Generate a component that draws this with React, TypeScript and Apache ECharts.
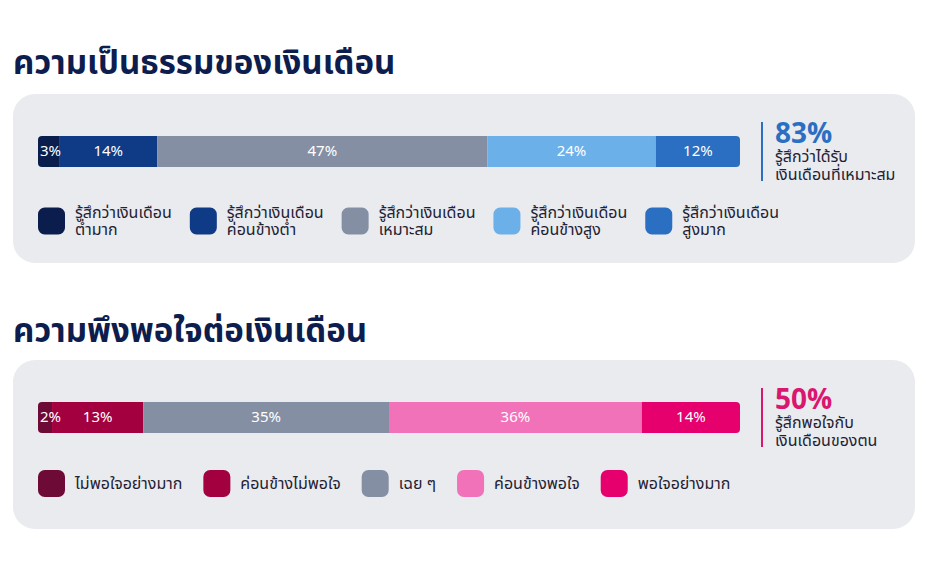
import React, { useEffect, useRef } from "react";
import * as echarts from "echarts";

const fairnessNames = [
  "รู้สึกว่าเงินเดือน\nต่ำมาก",
  "รู้สึกว่าเงินเดือน\nค่อนข้างต่ำ",
  "รู้สึกว่าเงินเดือน\nเหมาะสม",
  "รู้สึกว่าเงินเดือน\nค่อนข้างสูง",
  "รู้สึกว่าเงินเดือน\nสูงมาก",
];
const fairnessValues = [3, 14, 47, 24, 12];
const fairnessColors = ["#0b1d4d", "#0f3a86", "#858fa3", "#6cb0ea", "#2b6fc2"];

const satisfactionNames = [
  "ไม่พอใจอย่างมาก",
  "ค่อนข้างไม่พอใจ",
  "เฉย ๆ",
  "ค่อนข้างพอใจ",
  "พอใจอย่างมาก",
];
const satisfactionValues = [2, 13, 35, 36, 14];
const satisfactionColors = ["#6e0a36", "#a3003f", "#858fa3", "#f272b9", "#e5006e"];

const titles = ["ความเป็นธรรมของเงินเดือน", "ความพึงพอใจต่อเงินเดือน"];
const summaryValues = ["83%", "50%"];
const summaryTexts = ["รู้สึกว่าได้รับ\nเงินเดือนที่เหมาะสม", "รู้สึกพอใจกับ\nเงินเดือนของตน"];
const summaryColors = ["#2b6fc2", "#d9176f"];

const FONT = '"Noto Sans Thai", "Noto Sans", Lato, sans-serif';

function makeSeries(names: string[], values: number[], colors: string[], idx: number) {
  return names.map((n, i) => ({
    type: "bar",
    name: n,
    stack: "s" + idx,
    xAxisIndex: idx,
    yAxisIndex: idx,
    barWidth: 31,
    data: [values[i]],
    itemStyle: {
      color: colors[i],
      borderRadius: i === 0 ? [4, 0, 0, 4] : i === names.length - 1 ? [0, 4, 4, 0] : 0,
    },
    label: {
      show: true,
      position: i === 0 ? "insideLeft" : "inside",
      distance: 2,
      formatter: "{c}%",
      color: "#ffffff",
      fontSize: 15,
      fontFamily: FONT,
    },
  }));
}

export default function App() {
  const ref = useRef<HTMLDivElement>(null);
  useEffect(() => {
    const chart = echarts.init(ref.current!, null, { renderer: "svg" });
    const panelTops = [94, 360];
    const barTops = [136, 402];
    const graphic: any[] = [];
    panelTops.forEach((t, i) => {
      graphic.push({
        type: "rect",
        z: -10,
        shape: { x: 13, y: t, width: 902, height: 169, r: 22 },
        style: { fill: "#e9ebef" },
        silent: true,
      });
      graphic.push({
        type: "line",
        z: 10,
        shape: { x1: 762, y1: barTops[i] - 14, x2: 762, y2: barTops[i] + 45 },
        style: { stroke: summaryColors[i], lineWidth: 2 },
      });
      graphic.push({
        type: "text",
        z: 10,
        x: 775,
        y: barTops[i] - 2,
        style: {
          text: summaryValues[i],
          fill: summaryColors[i],
          font: `bold 28px ${FONT}`,
          lineHeight: 26,
          textVerticalAlign: "middle",
        },
      });
      graphic.push({
        type: "text",
        z: 10,
        x: 775,
        y: barTops[i] + 30,
        style: {
          text: summaryTexts[i],
          fill: "#1f2233",
          font: `16px ${FONT}`,
          lineHeight: 18,
          textVerticalAlign: "middle",
        },
      });
    });

    const option: any = {
      animation: false,
      title: titles.map((t, i) => ({
        text: t,
        left: 8,
        top: i === 0 ? 42 : 310,
        textStyle: { color: "#0c1d4e", fontSize: 33, fontWeight: "bold", fontFamily: FONT },
      })),
      legend: [
        {
          data: fairnessNames,
          left: 38,
          top: 204,
          padding: 0,
          itemWidth: 27,
          itemHeight: 27,
          itemGap: 18,
          icon: "roundRect",
          selectedMode: false,
          textStyle: { fontSize: 16, lineHeight: 17, color: "#1f2233", fontFamily: FONT, padding: [0, 0, 0, 5] },
        },
        {
          data: satisfactionNames,
          left: 38,
          top: 470,
          padding: 0,
          itemWidth: 27,
          itemHeight: 27,
          itemGap: 21,
          icon: "roundRect",
          selectedMode: false,
          textStyle: { fontSize: 16, color: "#1f2233", fontFamily: FONT, padding: [0, 0, 0, 5] },
        },
      ],
      grid: barTops.map((t) => ({ left: 38, width: 702, top: t, height: 31 })),
      xAxis: [0, 1].map((i) => ({
        type: "value",
        gridIndex: i,
        min: 0,
        max: 100,
        show: false,
      })),
      yAxis: [0, 1].map((i) => ({
        type: "category",
        gridIndex: i,
        data: [""],
        show: false,
      })),
      graphic,
      series: [
        ...makeSeries(fairnessNames, fairnessValues, fairnessColors, 0),
        ...makeSeries(satisfactionNames, satisfactionValues, satisfactionColors, 1),
      ],
    };
    chart.setOption(option);
    return () => chart.dispose();
  }, []);
  return (
    <div
      ref={ref}
      style={{ position: "absolute", left: 0, top: 0, width: 927, height: 575, background: "#ffffff" }}
    />
  );
}
